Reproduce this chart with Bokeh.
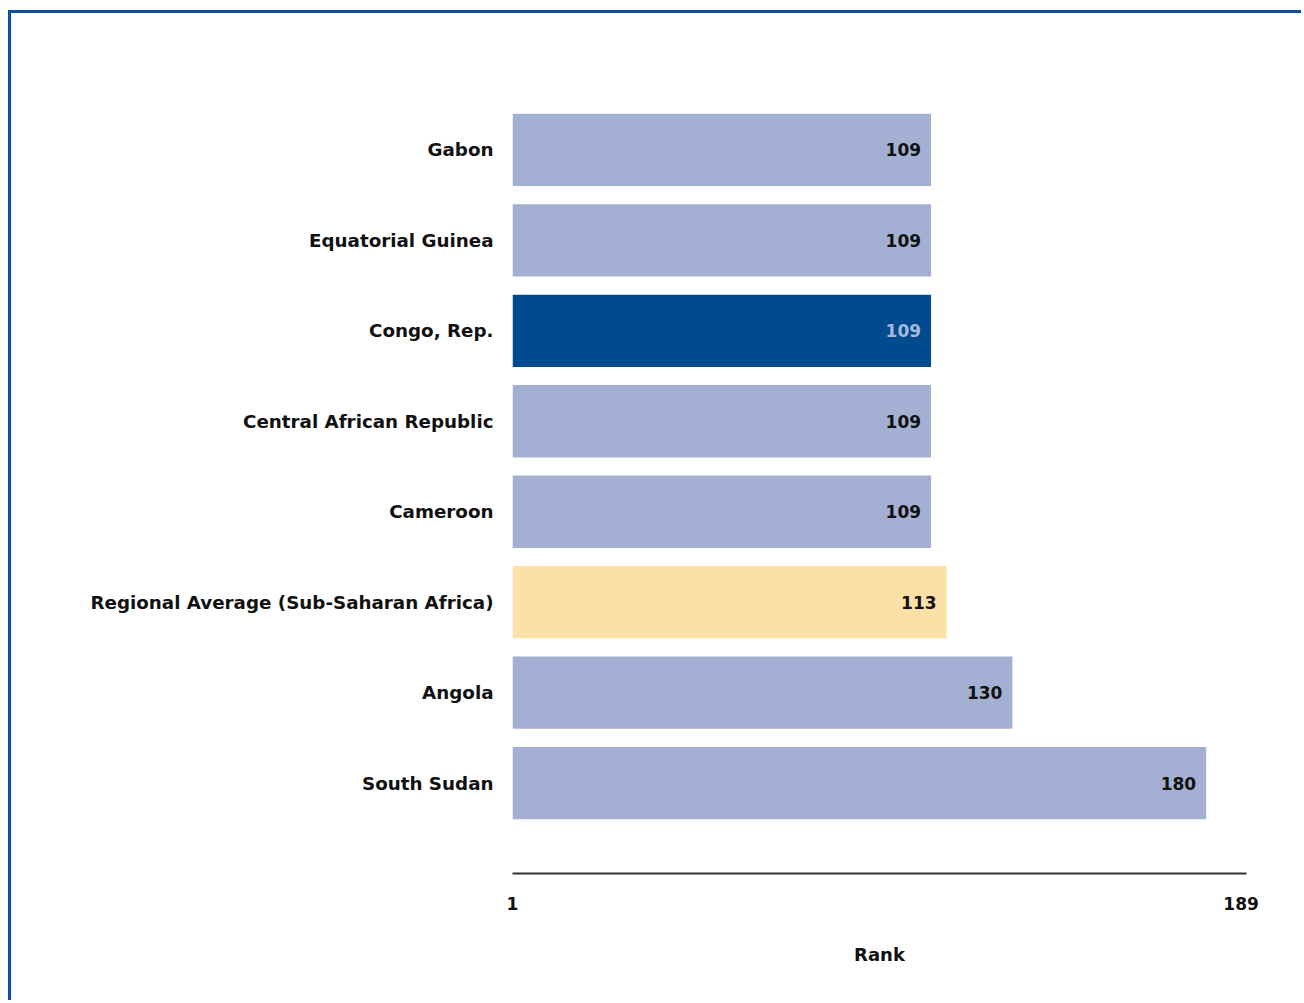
from bokeh.plotting import figure
from bokeh.models import ColumnDataSource, FactorRange, Range1d, FixedTicker, LabelSet
from bokeh.core.properties import value
from bokeh.embed import file_html
from bokeh.resources import INLINE

countries = ["Gabon", "Equatorial Guinea", "Congo, Rep.", "Central African Republic",
             "Cameroon", "Regional Average (Sub-Saharan Africa)", "Angola", "South Sudan"]
ranks = [109, 109, 109, 109, 109, 113, 130, 180]
bar_colors = ["#a3b0d3", "#a3b0d3", "#004b8d", "#a3b0d3", "#a3b0d3", "#fde0a8", "#a3b0d3", "#a3b0d3"]
label_colors = ["#111111", "#111111", "#a9b7dc", "#111111", "#111111", "#111111", "#111111", "#111111"]
x_ticks = [1, 189]
rank_min = 1

FONT = "DejaVu Sans"

src = ColumnDataSource(dict(country=countries, rank=ranks, color=bar_colors,
                            lcolor=label_colors, label=[str(r) for r in ranks],
                            base=[rank_min] * len(ranks)))

p = figure(width=1293, height=990, output_backend="svg", toolbar_location=None,
           y_range=FactorRange(factors=countries[::-1], range_padding=0.5,
                               range_padding_units="absolute"),
           x_range=Range1d(rank_min, 190.4))
p.styles = {"border-top": "3px solid #0f4f9c", "border-left": "3px solid #0f4f9c",
            "margin": "10px 0px 0px 8px"}
p.min_border_left = 501
p.min_border_top = 46
p.min_border_right = 58
p.min_border_bottom = 130
p.outline_line_color = None
p.background_fill_color = "white"
p.border_fill_color = "white"
p.grid.visible = False

p.hbar(y="country", left="base", right="rank", height=0.8, color="color",
       line_color=None, source=src)

labels = LabelSet(x="rank", y="country", text="label", source=src, x_offset=-10,
                  text_align="right", text_baseline="middle", text_color="lcolor",
                  text_font=value(FONT), text_font_size="17px", text_font_style="bold")
p.add_layout(labels)

xa = p.xaxis[0]
xa.ticker = FixedTicker(ticks=x_ticks)
xa.axis_line_color = "#333333"
xa.axis_line_width = 2
xa.major_tick_line_color = None
xa.minor_tick_line_color = None
xa.major_tick_out = 0
xa.major_tick_in = 0
xa.minor_tick_out = 0
xa.major_label_standoff = 23
xa.major_label_text_font = FONT
xa.major_label_text_font_size = "17px"
xa.major_label_text_font_style = "bold"
xa.major_label_text_color = "#111111"
xa.axis_label = "Rank"
xa.axis_label_standoff = 31
xa.axis_label_text_font = FONT
xa.axis_label_text_font_size = "18px"
xa.axis_label_text_font_style = "bold"
xa.axis_label_text_color = "#111111"

ya = p.yaxis[0]
ya.axis_line_color = None
ya.major_tick_line_color = None
ya.minor_tick_line_color = None
ya.major_tick_out = 0
ya.major_tick_in = 0
ya.major_label_standoff = 19
ya.major_label_text_font = FONT
ya.major_label_text_font_size = "18.3px"
ya.major_label_text_font_style = "bold"
ya.major_label_text_color = "#111111"

open("out.html", "w").write(file_html(p, INLINE))
